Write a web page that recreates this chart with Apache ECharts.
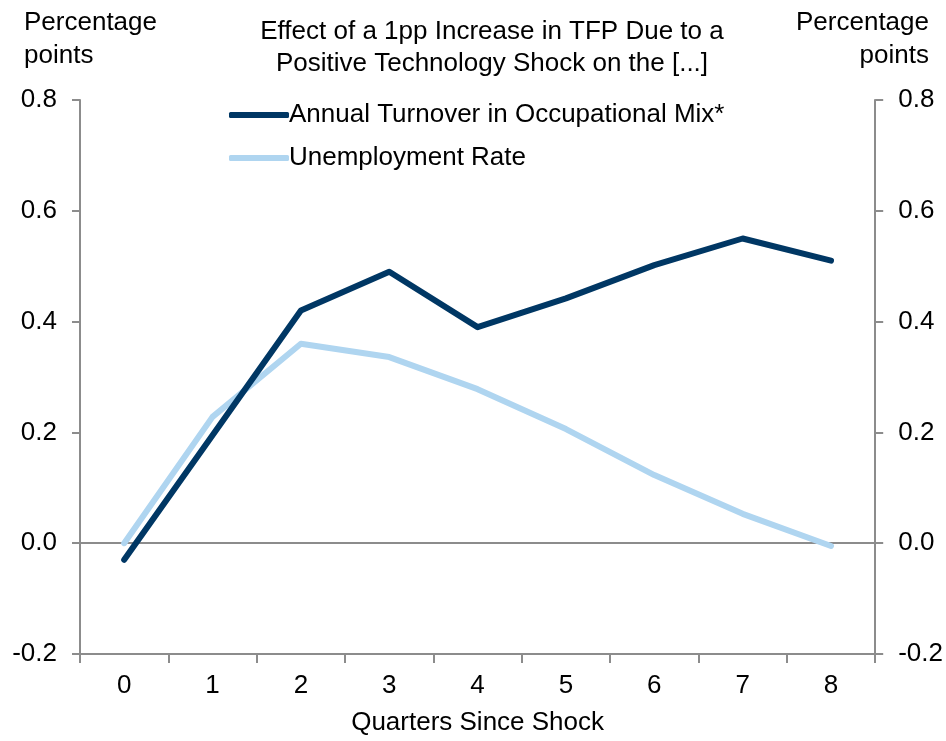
<!DOCTYPE html>
<html>
<head>
<meta charset="utf-8">
<script src="https://cdn.jsdelivr.net/npm/echarts@6/dist/echarts.min.js"></script>
<style>
  html, body { margin: 0; padding: 0; background: #fff; }
  #chart { width: 946px; height: 741px; }
</style>
</head>
<body>
<div id="chart"></div>
<script>
// Quarters after the shock
const quarters = ['0', '1', '2', '3', '4', '5', '6', '7', '8'];
// Response in percentage points
const turnover = [-0.03, 0.195, 0.42, 0.49, 0.39, 0.442, 0.502, 0.55, 0.51];
const unemployment = [0.0, 0.228, 0.36, 0.336, 0.278, 0.206, 0.123, 0.053, -0.005];
const yTicks = { min: -0.2, max: 0.8, step: 0.2 };

const FONT = '"Liberation Sans", Arial, sans-serif';
const FS = 26;
const AXIS_GREY = '#8c8c8c';
const DARK = '#003764';
const LIGHT = '#afd5f0';

const chart = echarts.init(document.getElementById('chart'), null, { renderer: 'canvas' });

const valueAxis = (position) => ({
  type: 'value',
  position: position,
  min: yTicks.min,
  max: yTicks.max,
  interval: yTicks.step,
  axisLine: { show: true, lineStyle: { color: AXIS_GREY, width: 2 } },
  axisTick: { show: true, length: 8, lineStyle: { color: AXIS_GREY, width: 2 } },
  splitLine: { show: false },
  axisLabel: {
    color: '#000', fontFamily: FONT, fontSize: FS, margin: 23,
    formatter: (v) => v.toFixed(1)
  }
});

const headStyle = { fontFamily: FONT, fontSize: FS, fontWeight: 'normal', color: '#000', lineHeight: 33 };

// Unit caption above each value axis
const unitText = (pos) => ({
  type: 'text',
  silent: true,
  style: {
    text: 'Percentage\npoints',
    x: pos === 'left' ? 24 : 929,
    y: 6,
    align: pos,
    verticalAlign: 'top',
    font: `${FS}px ${FONT}`,
    lineHeight: 33,
    fill: '#000'
  }
});

chart.setOption({
  animation: false,
  textStyle: { fontFamily: FONT },
  grid: { left: 80, right: 70, top: 100, bottom: 82 },
  title: [
    {
      text: 'Effect of a 1pp Increase in TFP Due to a\nPositive Technology Shock on the [...]',
      left: 487, top: 11, textAlign: 'center',
      textStyle: Object.assign({}, headStyle, { lineHeight: 32 })
    }
  ],
  graphic: [unitText('left'), unitText('right')],
  legend: {
    orient: 'vertical',
    left: 224, top: 97,
    itemWidth: 60, itemHeight: 6, itemGap: 17,
    icon: 'roundRect',
    textStyle: { fontFamily: FONT, fontSize: FS, color: '#000', padding: [0, 0, 0, -5] },
    data: ['Annual Turnover in Occupational Mix*', 'Unemployment Rate']
  },
  xAxis: {
    type: 'category',
    data: quarters,
    boundaryGap: true,
    name: 'Quarters Since Shock',
    nameLocation: 'middle',
    nameGap: 56,
    nameTextStyle: { color: '#000', fontFamily: FONT, fontSize: FS },
    axisLine: { show: true, onZero: false, lineStyle: { color: AXIS_GREY, width: 2 } },
    axisTick: { show: true, length: 9, alignWithLabel: false, lineStyle: { color: AXIS_GREY, width: 2 } },
    axisLabel: { color: '#000', fontFamily: FONT, fontSize: FS, margin: 19 },
    splitLine: { show: false }
  },
  yAxis: [valueAxis('left'), valueAxis('right')],
  series: [
    {
      name: 'Annual Turnover in Occupational Mix*',
      type: 'line',
      data: turnover,
      yAxisIndex: 0,
      symbol: 'none',
      lineStyle: { color: DARK, width: 6, cap: 'round', join: 'round' },
      itemStyle: { color: DARK },
      z: 4,
      markLine: {
        silent: true,
        symbol: 'none',
        label: { show: false },
        lineStyle: { color: AXIS_GREY, width: 2, type: 'solid' },
        data: [{ yAxis: 0 }],
        z: 1
      }
    },
    {
      name: 'Unemployment Rate',
      type: 'line',
      data: unemployment,
      yAxisIndex: 0,
      symbol: 'none',
      lineStyle: { color: LIGHT, width: 6, cap: 'round', join: 'round' },
      itemStyle: { color: LIGHT },
      z: 3
    }
  ]
});
</script>
</body>
</html>
